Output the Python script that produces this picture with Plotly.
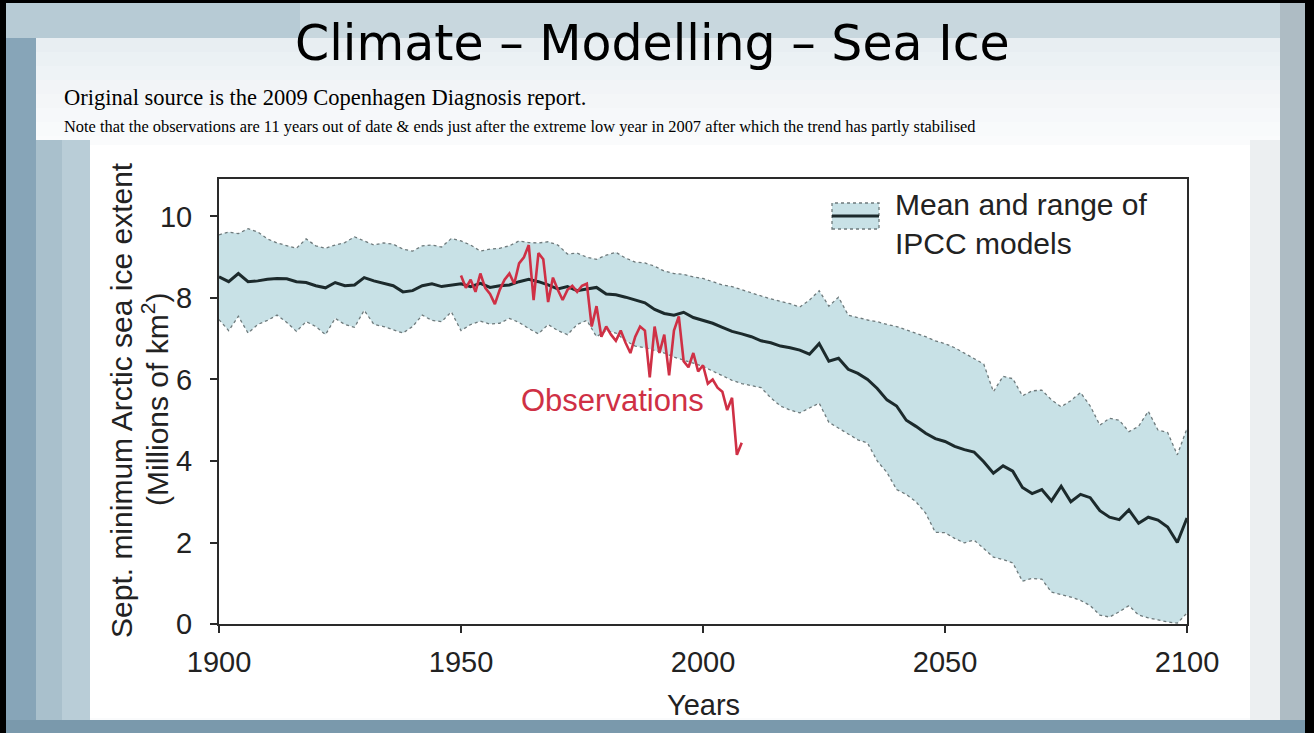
import plotly.graph_objects as go

# ---------------------------------------------------------------------------
# Data: September minimum Arctic sea-ice extent (millions of km^2)
# ---------------------------------------------------------------------------
model_years = list(range(1900, 2101, 2))

model_mean = [
    8.52, 8.40, 8.60, 8.40, 8.42, 8.46, 8.48, 8.47, 8.40, 8.38,
    8.30, 8.25, 8.38, 8.30, 8.32, 8.50, 8.42, 8.36, 8.30, 8.15,
    8.18, 8.30, 8.35, 8.28, 8.32, 8.35, 8.28, 8.36, 8.26, 8.30,
    8.32, 8.40, 8.46, 8.40, 8.32, 8.22, 8.28, 8.18, 8.22, 8.26,
    8.10, 8.08, 8.02, 7.95, 7.88, 7.72, 7.62, 7.58, 7.65, 7.52,
    7.45, 7.38, 7.28, 7.18, 7.12, 7.05, 6.95, 6.90, 6.82, 6.78,
    6.72, 6.62, 6.88, 6.45, 6.52, 6.25, 6.15, 6.00, 5.78, 5.50,
    5.35, 5.00, 4.85, 4.68, 4.55, 4.48, 4.36, 4.28, 4.22, 3.98,
    3.70, 3.88, 3.75, 3.35, 3.20, 3.30, 3.02, 3.38, 3.00, 3.18,
    3.10, 2.78, 2.62, 2.56, 2.80, 2.47, 2.62, 2.55, 2.38, 2.00,
    2.60,
]

model_upper = [
    9.55, 9.62, 9.58, 9.70, 9.62, 9.45, 9.35, 9.28, 9.22, 9.45,
    9.28, 9.22, 9.30, 9.36, 9.50, 9.40, 9.30, 9.35, 9.32, 9.20,
    9.15, 9.28, 9.30, 9.25, 9.46, 9.40, 9.30, 9.15, 9.20, 9.22,
    9.28, 9.40, 9.36, 9.35, 9.38, 9.30, 9.08, 9.10, 9.00, 8.95,
    9.05, 9.12, 8.98, 8.88, 8.86, 8.78, 8.66, 8.60, 8.58, 8.52,
    8.48, 8.40, 8.32, 8.28, 8.20, 8.12, 8.05, 7.98, 7.92, 7.86,
    7.78, 7.95, 8.18, 7.80, 8.02, 7.58, 7.52, 7.46, 7.42, 7.35,
    7.30, 7.22, 7.14, 7.05, 6.95, 6.88, 6.78, 6.65, 6.50, 6.38,
    5.70, 6.08, 6.02, 5.60, 5.72, 5.74, 5.50, 5.33, 5.48, 5.68,
    5.35, 4.88, 5.05, 5.00, 4.72, 4.85, 5.22, 4.76, 4.70, 4.15,
    4.80,
]

model_lower = [
    7.47, 7.20, 7.55, 7.14, 7.35, 7.45, 7.58, 7.40, 7.18, 7.42,
    7.30, 7.10, 7.50, 7.35, 7.28, 7.70, 7.35, 7.30, 7.22, 7.14,
    7.30, 7.58, 7.45, 7.42, 7.66, 7.20, 7.35, 7.43, 7.36, 7.38,
    7.50, 7.40, 7.25, 7.12, 7.35, 7.20, 7.10, 7.35, 7.45, 7.05,
    7.20, 7.14, 6.95, 6.82, 6.78, 6.72, 6.65, 6.55, 6.48, 6.40,
    6.32, 6.20, 6.10, 5.98, 5.90, 5.85, 5.80, 5.55, 5.35, 5.25,
    5.18, 5.30, 5.42, 4.95, 4.80, 4.65, 4.52, 4.44, 4.00, 3.72,
    3.30, 3.18, 3.00, 2.72, 2.25, 2.24, 2.10, 1.99, 2.06, 1.85,
    1.64, 1.58, 1.50, 1.05, 1.12, 1.10, 0.78, 0.72, 0.66, 0.58,
    0.45, 0.22, 0.17, 0.30, 0.45, 0.22, 0.15, 0.10, 0.05, 0.02,
    0.27,
]

obs_years = list(range(1950, 2009))
obs_extent = [
    8.55, 8.25, 8.45, 8.15, 8.60, 8.25, 8.10, 7.85, 8.20, 8.45,
    8.60, 8.35, 8.85, 9.00, 9.30, 7.95, 9.10, 8.95, 7.90, 8.50,
    8.20, 7.95, 8.20, 8.30, 8.15, 8.30, 8.35, 7.30, 7.80, 7.05,
    7.30, 7.10, 6.95, 7.20, 6.90, 6.65, 7.05, 7.30, 7.20, 6.05,
    7.30, 6.65, 7.10, 6.10, 7.20, 7.55, 6.45, 6.30, 6.65, 6.20,
    6.35, 5.90, 6.00, 5.80, 5.70, 5.25, 5.55, 4.15, 4.45,
]

x_ticks = [1900, 1950, 2000, 2050, 2100]
y_ticks = [0, 2, 4, 6, 8, 10]

# ---------------------------------------------------------------------------
# Page geometry (pixels) and helpers to place decorations in paper units
# ---------------------------------------------------------------------------
W_PAGE, H_PAGE = 1314, 733
L, R, T, B = 219, 1187, 179, 624
PW, PH = R - L, B - T


def fx(px):
    return (px - L) / PW


def fy(py):
    return (B - py) / PH


BAND = "#c8e1e6"
EDGE = "#6e7a7c"
MEAN = "#1c2a2c"
OBS = "#cf3045"
AXIS = "#2a2a2a"
SANS = "Liberation Sans, Arial, sans-serif"
SERIF = "Liberation Serif, Times New Roman, serif"

fig = go.Figure()

fig.add_trace(go.Scatter(
    x=model_years, y=model_lower, mode="lines",
    line=dict(color=EDGE, width=1.3, dash="dot"),
    hoverinfo="skip", showlegend=False,
))
fig.add_trace(go.Scatter(
    x=model_years, y=model_upper, mode="lines",
    line=dict(color=EDGE, width=1.3, dash="dot"),
    fill="tonexty", fillcolor=BAND,
    hoverinfo="skip", showlegend=False,
))
fig.add_trace(go.Scatter(
    x=model_years, y=model_mean, mode="lines",
    line=dict(color=MEAN, width=3),
    name="Mean and range of IPCC models", showlegend=False,
))
fig.add_trace(go.Scatter(
    x=obs_years, y=obs_extent, mode="lines",
    line=dict(color=OBS, width=2.6),
    name="Observations", showlegend=False,
))

shapes = []


def rect(x0, y0, x1, y1, color, layer="below"):
    shapes.append(dict(
        type="rect", xref="paper", yref="paper",
        x0=fx(x0), x1=fx(x1), y0=fy(y1), y1=fy(y0),
        fillcolor=color, line=dict(width=0), layer=layer,
    ))


# slide backdrop inside the black frame
rect(6, 3, 1305, 733, "#87a5b8")
rect(6, 3, 1305, 38, "#c8d7de")
rect(6, 3, 300, 38, "#b7cbd5")
rect(1280, 3, 1305, 733, "#aebcc4")
rect(6, 720, 1305, 733, "#7a99ac")
# slide panel with a soft top tint
rect(36, 38, 1280, 720, "#fafbfc")
for i, a in enumerate([0.40, 0.32, 0.25, 0.19, 0.13, 0.08, 0.04]):
    rect(36, 38 + i * 14, 1280, 52 + i * 14, f"rgba(205,220,227,{a})")
rect(36, 140, 90, 720, "#b9cdd7")
rect(36, 140, 62, 720, "#a9c0cc")
rect(1250, 140, 1280, 720, "#eceff1")
# white backing of the chart
rect(90, 145, 1250, 718, "#ffffff")

# legend swatch: shaded range with dotted edge and the mean line across it
shapes.append(dict(
    type="rect", xref="paper", yref="paper",
    x0=fx(832), x1=fx(879), y0=fy(229), y1=fy(203),
    fillcolor=BAND, line=dict(color=EDGE, width=1.3, dash="dot"),
    layer="above",
))
shapes.append(dict(
    type="line", xref="paper", yref="paper",
    x0=fx(832), x1=fx(879), y0=fy(216), y1=fy(216),
    line=dict(color=MEAN, width=3), layer="above",
))


def note(text, px, py, xanchor, size, family, color="#000000", **kw):
    return dict(text=text, xref="paper", yref="paper", x=fx(px), y=fy(py),
                xanchor=xanchor, yanchor="middle", showarrow=False,
                font=dict(family=family, size=size, color=color), **kw)


annotations = [
    note("Climate – Modelling – Sea Ice", 652, 44, "center", 49,
         "DejaVu Sans, sans-serif"),
    note("Original source is the 2009 Copenhagen Diagnosis report.",
         62, 98, "left", 22.5, SERIF),
    note("Note that the observations are 11 years out of date &amp; ends just "
         "after the extreme low year in 2007 after which the trend has "
         "partly stabilised", 62, 126, "left", 16.4, SERIF),
    note("Sept. minimum Arctic sea ice extent", 121, 400, "center", 30, SANS,
         "#222222", textangle=-90),
    note("(Millions of km<sup>2</sup>)", 155, 400, "center", 30, SANS,
         "#222222", textangle=-90),
    note("Years", 703, 705, "center", 29, SANS, "#222222"),
    note("Mean and range of<br>IPCC models", 893, 224, "left", 30, SANS,
         "#222222", align="left"),
    note("Observations", 519, 400, "left", 31, SANS, OBS),
]

fig.update_layout(
    width=W_PAGE, height=H_PAGE,
    margin=dict(l=L, r=W_PAGE - R, t=T, b=H_PAGE - B, pad=0),
    paper_bgcolor="#000000", plot_bgcolor="rgba(0,0,0,0)",
    shapes=shapes, annotations=annotations, showlegend=False,
)
fig.update_xaxes(
    range=[1900, 2100], tickvals=x_ticks, ticktext=[str(v) for v in x_ticks],
    showgrid=False, zeroline=False, showline=True, mirror=True,
    linecolor=AXIS, linewidth=2, ticks="outside", ticklen=7, tickwidth=2,
    tickcolor=AXIS, ticklabelstandoff=4,
    tickfont=dict(family=SANS, size=29, color="#222222"),
)
fig.update_yaxes(
    range=[0, 10.92], tickvals=y_ticks, ticktext=[str(v) for v in y_ticks],
    showgrid=False, zeroline=False, showline=True, mirror=True,
    linecolor=AXIS, linewidth=2, ticks="outside", ticklen=7, tickwidth=2,
    tickcolor=AXIS, ticklabelstandoff=12,
    tickfont=dict(family=SANS, size=29, color="#222222"),
)

fig.write_html("out.html")
